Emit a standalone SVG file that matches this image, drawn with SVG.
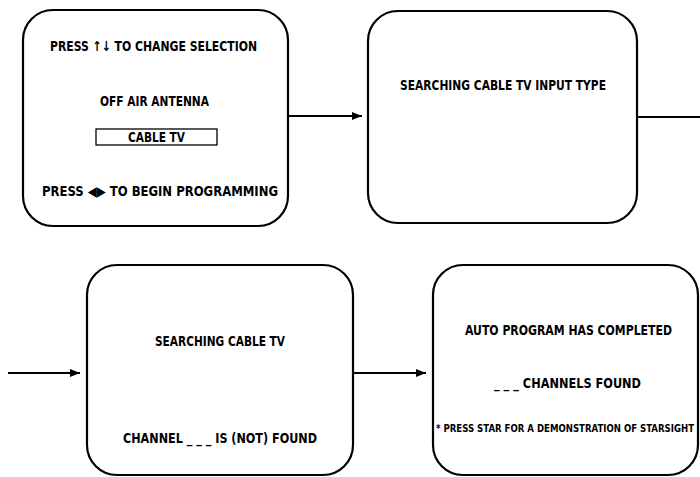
<svg xmlns="http://www.w3.org/2000/svg" width="700" height="477" viewBox="0 0 700 477">
<defs>
<style>
.box{fill:#fff;stroke:#000;stroke-width:2.2}
.t{font-family:"DejaVu Sans Condensed","Liberation Sans",sans-serif;font-weight:bold;font-size:12px;fill:#000}
.s{font-size:9.5px}
.c{fill:none;stroke:#000;stroke-width:2.2}
</style>
<marker id="ah" viewBox="0 0 10 8" refX="10" refY="4" markerWidth="10" markerHeight="8" markerUnits="userSpaceOnUse" orient="auto">
<path d="M0,0 L10,4 L0,8 Z" fill="#000"/>
</marker>
</defs>
<rect width="700" height="477" fill="#fff"/>
<g id="connectors">
<path class="c" d="M288,116 H362" marker-end="url(#ah)"/>
<path class="c" d="M637,117 H700"/>
<path class="c" d="M8,373 H80" marker-end="url(#ah)"/>
<path class="c" d="M353,373 H426" marker-end="url(#ah)"/>
</g>
<g id="screen1">
<rect class="box" x="23" y="10" width="265" height="216" rx="30" ry="30"/>
<text class="t" transform="translate(50,51) scale(1,1.15)" textLength="207" lengthAdjust="spacingAndGlyphs">PRESS ↑↓ TO CHANGE SELECTION</text>
<text class="t" transform="translate(100,106) scale(1,1.15)" textLength="109" lengthAdjust="spacingAndGlyphs">OFF AIR ANTENNA</text>
<rect x="96" y="129" width="121" height="16" fill="none" stroke="#000" stroke-width="1.3"/>
<text class="t" transform="translate(128,142) scale(1,1.15)" textLength="57" lengthAdjust="spacingAndGlyphs">CABLE TV</text>
<text class="t" transform="translate(42,196) scale(1,1.15)" textLength="236" lengthAdjust="spacingAndGlyphs">PRESS ◀▶ TO BEGIN PROGRAMMING</text>
</g>
<g id="screen2">
<rect class="box" x="368" y="11" width="269" height="212" rx="30" ry="30"/>
<text class="t" transform="translate(400,90) scale(1,1.15)" textLength="206" lengthAdjust="spacingAndGlyphs">SEARCHING CABLE TV INPUT TYPE</text>
</g>
<g id="screen3">
<rect class="box" x="87" y="265" width="266" height="210" rx="30" ry="30"/>
<text class="t" transform="translate(155,346) scale(1,1.15)" textLength="130" lengthAdjust="spacingAndGlyphs">SEARCHING CABLE TV</text>
<text class="t" transform="translate(123,443) scale(1,1.15)" textLength="194" lengthAdjust="spacingAndGlyphs">CHANNEL _ _ _ IS (NOT) FOUND</text>
</g>
<g id="screen4">
<rect class="box" x="433" y="265" width="265" height="210" rx="30" ry="30"/>
<text class="t" transform="translate(465,335) scale(1,1.15)" textLength="207" lengthAdjust="spacingAndGlyphs">AUTO PROGRAM HAS COMPLETED</text>
<text class="t" transform="translate(494,388) scale(1,1.15)" textLength="147" lengthAdjust="spacingAndGlyphs">_ _ _ CHANNELS FOUND</text>
<text class="t s" transform="translate(436,432) scale(1,1.15)" textLength="258" lengthAdjust="spacingAndGlyphs">* PRESS STAR FOR A DEMONSTRATION OF STARSIGHT</text>
</g>
</svg>
